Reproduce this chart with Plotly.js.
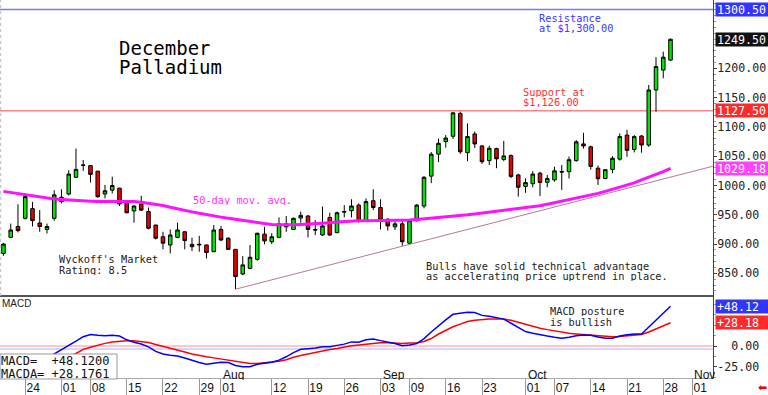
<!DOCTYPE html>
<html><head><meta charset="utf-8">
<script src="https://cdn.plot.ly/plotly-3.0.1.min.js"></script>
<style>html,body{margin:0;padding:0;background:#fff;overflow:hidden}#chart{width:768px;height:395px}</style>
</head><body><div id="chart"></div>
<script>
// ---------- DATA ----------
const dates = [
'2019-06-19','2019-06-20','2019-06-21','2019-06-24','2019-06-25','2019-06-26','2019-06-27','2019-06-28',
'2019-07-01','2019-07-02','2019-07-03','2019-07-05','2019-07-08','2019-07-09','2019-07-10','2019-07-11','2019-07-12',
'2019-07-15','2019-07-16','2019-07-17','2019-07-18','2019-07-19','2019-07-22','2019-07-23','2019-07-24','2019-07-25','2019-07-26',
'2019-07-29','2019-07-30','2019-07-31','2019-08-01','2019-08-02','2019-08-05','2019-08-06','2019-08-07','2019-08-08','2019-08-09',
'2019-08-12','2019-08-13','2019-08-14','2019-08-15','2019-08-16','2019-08-19','2019-08-20','2019-08-21','2019-08-22','2019-08-23',
'2019-08-26','2019-08-27','2019-08-28','2019-08-29','2019-08-30','2019-09-03','2019-09-04','2019-09-05','2019-09-06',
'2019-09-09','2019-09-10','2019-09-11','2019-09-12','2019-09-13','2019-09-16','2019-09-17','2019-09-18','2019-09-19','2019-09-20',
'2019-09-23','2019-09-24','2019-09-25','2019-09-26','2019-09-27','2019-09-30','2019-10-01','2019-10-02','2019-10-03','2019-10-04',
'2019-10-07','2019-10-08','2019-10-09','2019-10-10','2019-10-11','2019-10-14','2019-10-15','2019-10-16','2019-10-17','2019-10-18',
'2019-10-21','2019-10-22','2019-10-23','2019-10-24','2019-10-25','2019-10-28','2019-10-29'];
const futureDates = ['2019-10-30','2019-10-31','2019-11-01','2019-11-04','2019-11-05','2019-11-06','2019-11-07'];

const open = [884,911.5,930,944,960.5,936,925,944,980,985.5,1014,1035,1034,1024.5,985.5,992,995.5,974,956.5,968.5,955.5,932.5,912.5,898.5,911.5,921,899.5,898.5,898.5,887,925,910,891,849,858.5,874,917,904,911.5,934.5,925,944.5,948,925,915.5,945.5,919.5,954.5,957,966.5,939.5,974,962.5,942.5,929.5,934.5,901.5,940,965,1016,1053.5,1075,1084,1123,1056,1088,1067.5,1042.5,1063,1044.5,1051,1018,998.5,1003,1021,1005.5,1009.5,1024,1023.5,1042.5,1071,1066,1029.5,1012,1027.5,1045,1086,1061.5,1084.5,1069,1163,1197,1214];
const high = [902,935,968,987,972,958,935,992,993.5,1026,1063,1043.5,1035,1025,1001,1015,996,975,966,982.5,962.5,933,921,925,936.5,921.5,911,914,899,932.5,931,911.5,891.5,879.5,898.5,919.5,929.5,918.5,945.5,948,945.5,955.5,949.5,941,964,953.5,955.5,966.5,976.5,969.5,978,993.5,976.5,944,942.5,941,942.5,968.5,1016,1057,1080,1086,1125.5,1126,1106,1092,1069,1068,1064.5,1076,1053,1020,1012,1024.5,1023.5,1018,1032,1035,1049.5,1077.5,1090,1068,1034,1027.5,1050,1089,1095,1086,1086,1171.5,1219,1228.5,1251];
const low = [880,910,920,942,930,921,918,940,969.5,983,1013.5,1025,1005,979,978,986.5,965,952.5,936.5,956.5,925,908,891,884,910,891,888,887,875.5,886.5,905,890,823,847,857,871.5,899.5,900,910,921,924,936.5,911.5,915.5,914,914,918.5,945.5,945.5,936.5,938.5,958,925,923,924,897,900,938.5,961,1004,1040,1064.5,1079.5,1054,1041.5,1064,1037,1035,1029.5,1041.5,1012.5,981,987.5,997,982,997,1006.5,992.5,1012,1040.5,1063,1027,1001,1010.5,1021,1042.5,1049,1056.5,1056,1066,1126,1183,1213];
const close = [900,924,923,981,940,930,930,984,972.5,1019.5,1027.5,1034.5,1019,981,991,1000,968.5,953.5,965,958,927,910,901.5,915.5,924,906,895.5,899.5,885.5,924,907,891,844.5,864.5,877.5,918.5,905.5,912.5,934.5,929.5,944,949,925,924,931,915.5,953.5,955.5,965,938.5,972.5,962.5,941,931,934.5,904,940,966.5,1014,1053.5,1072,1081,1124,1057.5,1083.5,1071,1040.5,1063.5,1045.5,1050.5,1015.5,997,1005,1019.5,1005,1012,1025,1023,1044,1074.5,1067.5,1032.5,1011.5,1027,1046.5,1083.5,1060,1083.5,1069,1163,1203,1219,1249.5];

const ma50 = [990,988,986,984,982,980,978.5,977,976,975,974,973.5,973,972.5,972.5,972.5,973,973,972.5,971.5,970,968,966,963,960,957.5,955,952.5,950,948,946,944,942,940.5,939,937,935,933.5,933,933,933,933.5,934,934.5,935.5,936.5,937.5,938.5,939.5,940,940,940,940,940,940,940.5,941,942,943,944,945,946,947,948.5,950,951.5,953,954.5,956,957.5,959,960.5,962,963,965.5,968,970.5,973,975.5,978,981,984,986.5,990,993.5,997,1000.5,1004.5,1009.5,1014,1018.5,1023.5,1029.18];

const macd = [-30,-31,-30,-28,-25,-20,-15,-9.5,-4.5,0.5,6,11.3,14,13,12.5,13,12,7.5,4.5,2.5,-1,-6.5,-9.7,-11,-12,-14.5,-17.5,-20,-22,-20.5,-19.5,-20,-23.5,-25,-25,-22,-20.5,-19.5,-17,-13,-8,-4,-3.2,-2.5,-0.8,-0.8,0.8,2.3,5,4.5,7.5,8.5,6.5,5,3,0.4,1.2,3,9,17,24.5,31.5,38.3,39.5,40.7,40.5,37,36,34.5,32.5,27.5,22,17.5,15.5,13.5,12,10.5,9.5,10.5,12.5,13.3,13,11,9.5,9.3,12,13.5,14.5,14.5,23,31.3,39.7,48.12];
const macdA = [-26,-26,-25,-24,-23,-21,-19,-17,-15,-13,-9,-4,-1.4,1.2,3.2,4.9,6,6.3,6.3,5.2,4.2,1.9,-0.6,-2.9,-5.2,-7.3,-9.5,-11.5,-13,-14.3,-15.8,-17.1,-18.5,-19.8,-21,-21,-20,-19.5,-18.5,-16.5,-13.5,-11.5,-9.5,-7.3,-5.5,-4.2,-3,-1,0.2,1.3,2.3,3.2,3.9,4,3.5,3.2,3.6,4,5.5,9,14.5,19,23.3,26.5,29.5,31,32.2,32.5,32.6,32.5,31,28.5,26,23.3,21.5,19.8,18.3,16.5,15.3,14.5,13.8,13.2,12.6,12,11.3,11.5,12.1,13,14,17,20.5,24.5,28.18];

const trendDates = ['2019-08-05','2019-11-07'];
const trendValues = [823,1036.6];
const resistance = 1300.50, support = 1127.50, lastPrice = 1249.50, maLast = 1029.18;
const macdLast = 48.1200, macdALast = 28.1761;

const priceTicks = [850,900,950,1000,1050,1100,1150,1200];
const macdTicks = [0,-25];
const macdTickText = ['\u00a0\u00a00.00','-25.00'];
const tickDates = ['2019-06-24','2019-07-01','2019-07-08','2019-07-15','2019-07-22','2019-07-29','2019-08-01','2019-08-12','2019-08-19','2019-08-26','2019-09-03','2019-09-09','2019-09-16','2019-09-23','2019-10-01','2019-10-07','2019-10-14','2019-10-21','2019-10-28','2019-11-01'];
const tickLabels = ['24','01','08','15','22','29','01','12','19','26','03','09','16','23','01','07','14','21','28','01'];
const monthDates = ['2019-08-01','2019-09-03','2019-10-01','2019-11-01'];
const monthLabels = ['Aug','Sep','Oct','Nov'];

// ---------- BUILD ----------
const calendar = dates.concat(futureDates);
const idx = d => calendar.indexOf(d);
const xi = dates.map(idx);

const H = 378, W = 713;
const py = y => (H - y) / H;
const px = x => x / W;
const MONO = 'DejaVu Sans Mono, monospace';
const SANS = 'Liberation Sans, Arial, sans-serif';

const traces = [
  {type:'scatter', mode:'lines', x: trendDates.map(idx), y: trendValues, xaxis:'x', yaxis:'y',
   line:{color:'#b8789a', width:1}, hoverinfo:'skip'},
  {type:'scatter', mode:'lines', x: xi, y: ma50, xaxis:'x', yaxis:'y',
   line:{color:'#ff10ff', width:3}, hoverinfo:'skip'},
  {type:'candlestick', x: xi, open: open, high: high, low: low, close: close, xaxis:'x', yaxis:'y',
   increasing:{line:{color:'#000', width:1}, fillcolor:'#00e600'},
   decreasing:{line:{color:'#000', width:1}, fillcolor:'#ee0000'},
   whiskerwidth:0, hoverinfo:'skip'},
  {type:'scatter', mode:'lines', x: xi, y: macdA, xaxis:'x', yaxis:'y2',
   line:{color:'#ff0000', width:1.5}, hoverinfo:'skip'},
  {type:'scatter', mode:'lines', x: xi, y: macd, xaxis:'x', yaxis:'y2',
   line:{color:'#0000ff', width:1.5}, hoverinfo:'skip'}
];

function txt(text, x, y, size, color, fam, h) {
  return {text: text, xref:'paper', yref:'paper', x: px(x), y: py(y),
    xanchor:'left', yanchor:'middle', showarrow:false, borderpad:0, height: h || Math.round(size * 0.95),
    font:{family: fam || MONO, size: size, color: color}};
}
function tag(text, yval, yref, bg) {
  return {text: text, xref:'paper', yref: yref, x: 1, y: yval, xanchor:'left', yanchor:'middle',
    xshift: 2, showarrow:false, bgcolor: bg, borderpad:1, width: 50, height: 11, align:'left',
    font:{family: MONO, size: 11.6, color:'#fff'}};
}

const annotations = [
  txt('December', 118, 48, 19, '#000', MONO, 18),
  txt('Palladium', 118, 67, 19, '#000', MONO, 18),
  txt('Resistance', 538, 18, 10.3, '#3a3aff'),
  txt('at $1,300.00', 538, 28, 10.3, '#3a3aff'),
  txt('Support at', 522, 92, 10.3, '#ff3030'),
  txt('$1,126.00', 522, 102, 10.3, '#ff3030'),
  txt('50-day mov. avg.', 192, 200, 10.3, '#ff30ff'),
  txt("Wyckoff's Market", 58, 259, 10.3, '#222'),
  txt('Rating: 8.5', 58, 270, 10.3, '#222'),
  txt('Bulls have solid technical advantage', 425, 266, 10.3, '#222'),
  txt('as accelerating price uptrend in place.', 425, 276, 10.3, '#222'),
  txt('MACD posture', 549, 311, 10.3, '#222'),
  txt('is bullish', 549, 322, 10.3, '#222'),
  txt('MACD', 1, 303, 10, '#222', SANS),
  txt('MACD=  +' + macdLast.toFixed(4), 0, 361, 12, '#111', MONO, 12),
  txt('MACDA= +' + macdALast.toFixed(4), 0, 374, 12, '#111', MONO, 12),
  tag(resistance.toFixed(2), resistance, 'y', '#3434ff'),
  tag(lastPrice.toFixed(2), lastPrice, 'y', '#111'),
  tag(support.toFixed(2), support, 'y', '#ff2a2a'),
  tag(maLast.toFixed(2), maLast, 'y', '#ff40ff'),
  tag('+' + macdLast.toFixed(2), macdLast, 'y2', '#3434ff'),
  tag('+' + macdALast.toFixed(2), macdALast, 'y2', '#ff2a2a'),
  txt('\u2B05', 757, 387, 11, '#ee0000', 'DejaVu Sans', 12)
];
monthDates.forEach((d, k) => {
  annotations.push({text: monthLabels[k], xref:'x', yref:'paper', x: idx(d), y: py(374),
    xanchor:'left', yanchor:'middle', xshift: 1, showarrow:false, borderpad:0, height: 11,
    font:{family: SANS, size: 12, color:'#111'}});
});

const split = py(296);
const shapes = [
  {type:'line', xref:'paper', yref:'y', x0:0, x1:1, y0:resistance, y1:resistance, line:{color:'#7878ff', width:1.5}, layer:'below'},
  {type:'line', xref:'paper', yref:'y', x0:0, x1:1, y0:support, y1:support, line:{color:'#ff8585', width:1.5}, layer:'below'},
  {type:'line', xref:'paper', yref:'y2', x0:0, x1:1, y0:0, y1:0, line:{color:'#ffc8c8', width:2}, layer:'below'},
  {type:'line', xref:'paper', yref:'y2', x0:0, x1:1, y0:-3.6, y1:-3.6, line:{color:'#c8c8ff', width:1.5}, layer:'below'},
  {type:'line', xref:'paper', yref:'paper', x0:0, x1:1, y0:split, y1:split, line:{color:'#555', width:2}},
  {type:'line', xref:'paper', yref:'paper', x0:0.001, x1:0.001, y0:split, y1:1, line:{color:'#bbb', width:1, dash:'dot'}},
  {type:'rect', xref:'paper', yref:'paper', x0:0, x1:px(117), y0:py(379), y1:py(354), fillcolor:'#fff', line:{color:'#999', width:1}}
];

const axisFont = {family:MONO, size:11.6, color:'#222'};
const layout = {
  width:768, height:395, margin:{l:0, r:55, t:0, b:17},
  paper_bgcolor:'#fff', plot_bgcolor:'#fff', showlegend:false,
  xaxis:{domain:[0,1], anchor:'y2', range:[-0.48, 97.86], tickmode:'array',
    tickvals: tickDates.map(idx), ticktext: tickLabels,
    ticks:'outside', ticklen:16, tickwidth:1, tickcolor:'#999',
    ticklabelstandoff:-17, ticklabelshift:8,
    tickfont:{family:SANS, size:12, color:'#111'},
    showline:true, linecolor:'#aaa', linewidth:1, showgrid:false, zeroline:false,
    rangeslider:{visible:false}, fixedrange:true},
  yaxis:{domain:[split,1], anchor:'x', side:'right', range:[811.4,1316.6],
    tickmode:'array', tickvals: priceTicks, ticktext: priceTicks.map(v => v.toFixed(2)),
    ticks:'outside', ticklen:3, tickcolor:'#444', showline:true, linecolor:'#444', linewidth:1,
    ticklabelstandoff:-2,
    showgrid:false, zeroline:false, tickfont:axisFont,
    minor:{tickmode:'linear', tick0:0, dtick:10, ticks:'outside', ticklen:2, tickcolor:'#999'}},
  yaxis2:{domain:[0,split], anchor:'x', side:'right', range:[-38.6,60.4],
    tickmode:'array', tickvals: macdTicks, ticktext: macdTickText,
    ticks:'outside', ticklen:3, tickcolor:'#444', showline:true, linecolor:'#444', linewidth:1,
    ticklabelstandoff:-2,
    showgrid:false, zeroline:false, tickfont:axisFont,
    minor:{tickmode:'linear', tick0:0, dtick:12.5, ticks:'outside', ticklen:2, tickcolor:'#999'}},
  shapes: shapes,
  annotations: annotations
};

Plotly.newPlot('chart', traces, layout, {staticPlot:true, displayModeBar:false});
</script>
</body></html>
